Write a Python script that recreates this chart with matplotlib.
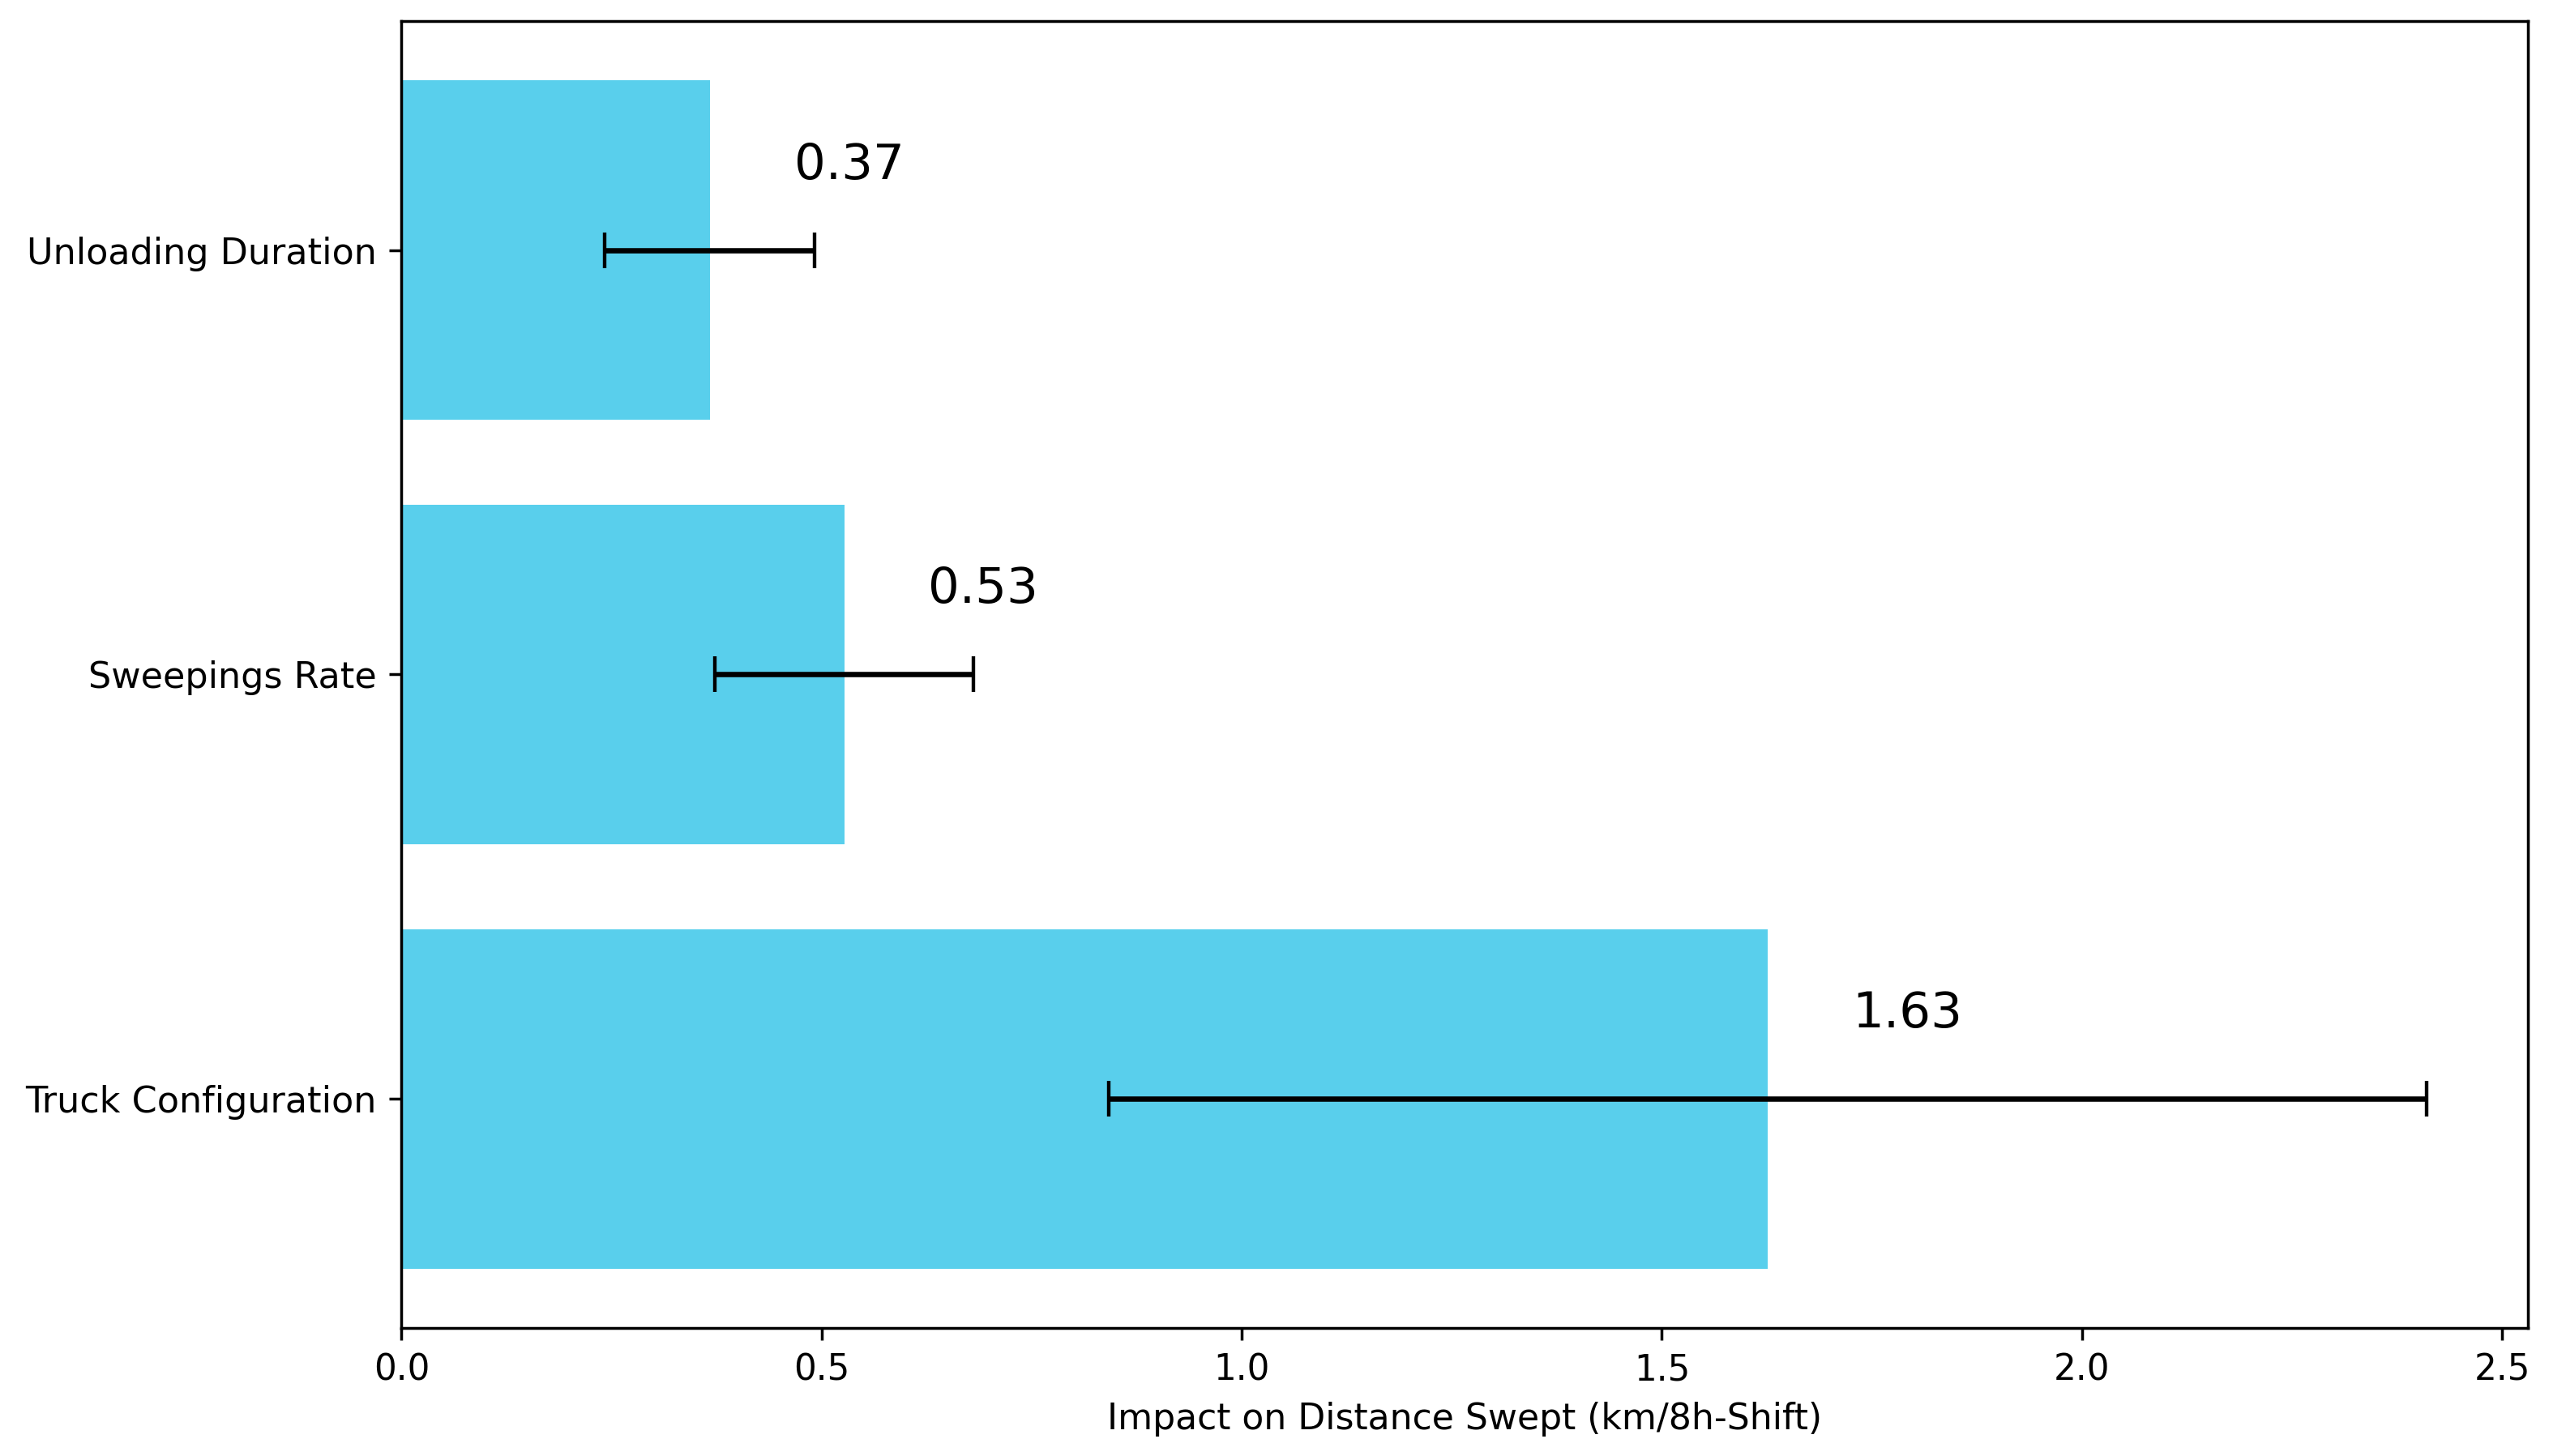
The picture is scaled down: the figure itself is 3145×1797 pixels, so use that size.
import matplotlib
matplotlib.use("Agg")
import matplotlib.pyplot as plt

# data
factors = ["Truck Configuration", "Sweepings Rate", "Unloading Duration"]
impacts = [1.626, 0.527, 0.367]
errors = [0.784, 0.154, 0.125]

fig, ax = plt.subplots(figsize=(10, 5.714), dpi=314.5)
fig.subplots_adjust(left=0.1575, right=0.9917, top=0.9855, bottom=0.088)

ax.barh(factors, impacts, xerr=errors, color="#59CFEC", capsize=5,
        error_kw={"elinewidth": 1.5, "capthick": 1.0, "ecolor": "black"})

# value labels next to each bar
for i, v in enumerate(impacts):
    ax.text(v + 0.1, i + 0.2, f"{v:.2f}", ha="left", va="center", fontsize=14)

ax.set_xlabel("Impact on Distance Swept (km/8h-Shift)", fontsize=10.1)
ax.tick_params(axis="y", labelsize=10.2)

fig.savefig("out.png", dpi=314.5)
